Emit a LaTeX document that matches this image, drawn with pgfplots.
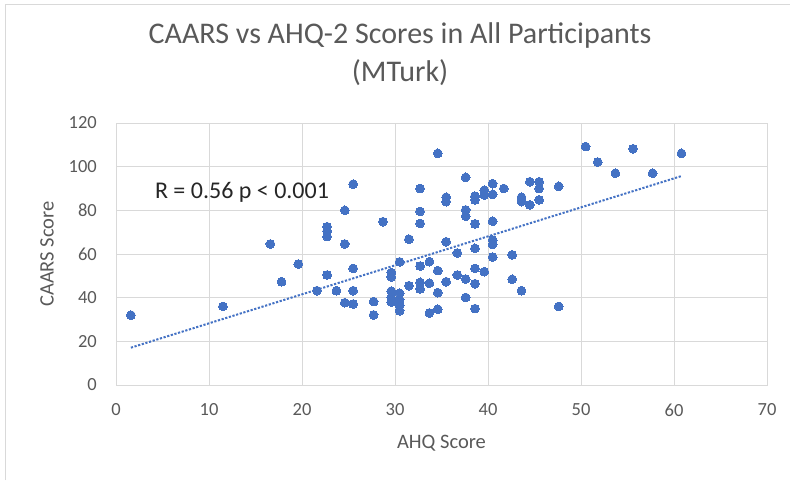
\documentclass[border=0pt]{standalone}
\usepackage{fontspec}
\setmainfont{Carlito}
\usepackage{pgfplots}
\pgfplotsset{compat=1.18}

\definecolor{dotblue}{HTML}{4472C4}
\definecolor{gridgray}{HTML}{D9D9D9}
\definecolor{txtgray}{HTML}{595959}

% AHQ score vs CAARS score, one row per participant
\pgfplotstableread{
x y
1.6 32
11.5 36
16.6 64.6
17.8 47.3
19.6 55.4
21.6 43.2
22.7 72.5
22.7 70.5
22.7 68
22.7 50.4
23.7 43.2
24.6 80
24.6 64.6
24.6 37.7
25.5 92
25.5 53.4
25.5 43.2
25.5 37.1
27.7 38.2
27.7 32.1
28.7 74.8
29.6 51.5
29.6 49.5
30.5 56.4
29.6 43
29.6 40
29.6 38
30.5 42
30.5 39
30.5 36.5
30.5 34
31.5 66.8
31.5 45.5
32.7 90
32.7 79.5
32.7 74
32.7 54.5
32.7 47
32.7 44
33.7 56.5
33.7 46.6
33.7 33
34.6 34.7
34.6 106.1
34.6 52.4
34.6 42.3
35.5 86
35.5 84
35.5 65.6
35.5 47.3
36.7 60.5
36.7 50.4
37.6 95.1
37.6 80.2
37.6 77.3
37.6 48.5
37.6 40.1
38.6 86.5
38.6 84.8
38.6 73.8
38.6 62.6
38.6 53.4
38.6 46.4
38.6 35
39.6 89.2
39.6 87
39.6 51.9
40.5 92.2
40.5 87.3
40.5 75
40.5 66.4
40.5 64.4
40.5 58.6
41.7 90
42.6 59.6
42.6 48.4
43.6 43.2
43.6 86
43.6 84
44.5 93.1
44.5 82.5
45.5 93.1
45.5 90
45.5 84.8
47.6 91
47.6 36
50.5 109.2
51.8 102.1
53.7 97
55.6 108.2
57.7 97
60.8 106.1
}\mturk

\begin{document}
\begin{tikzpicture}[x=1pt,y=1pt]
\useasboundingbox (0,0) rectangle (790,480);
\draw[gridgray, line width=1pt] (5,0) -- (5,475) -- (790,475);
\begin{axis}[
    at={(116pt,95pt)}, anchor=south west,
    scale only axis,
    width=651pt, height=262pt,
    xmin=0, xmax=70, ymin=0, ymax=120,
    xtick distance=10, ytick distance=20,
    grid=major,
    grid style={gridgray, line width=1pt},
    axis line style={gridgray, line width=1pt},
    major tick length=0pt,
    /pgf/number format/assume math mode=true,
    tick label style={font=\fontsize{18.5}{22}\selectfont, text=txtgray, inner sep=0pt},
    xticklabel style={anchor=center, yshift=-25pt},
    yticklabel style={anchor=east, xshift=-19pt},
    xlabel={AHQ Score},
    ylabel={CAARS Score},
    label style={font=\fontsize{20.5}{24}\selectfont, text=txtgray, inner sep=0pt},
    xlabel style={at={(axis description cs:0.5,-0.2214)}, anchor=center},
    ylabel style={at={(axis description cs:-0.106,0.5)}, anchor=center},
    title={CAARS vs AHQ-2 Scores in All Participants\\(MTurk)},
    title style={at={(axis description cs:0.4363,1.2385)}, anchor=center, align=center,
        font=\fontsize{30}{38}\selectfont, text=txtgray, inner sep=0pt},
    clip=false,
]
\addplot[dotblue, only marks, mark=*, mark size=4.4pt, mark options={draw=dotblue, fill=dotblue, line width=0pt}] table[x=x, y=y] {\mturk};
\addplot[dotblue, line width=2pt, dash pattern=on 2.2pt off 1.6pt] coordinates {(1.6,17.1) (60.8,95.7)};
\node[font=\fontsize{24}{28}\selectfont, text=black!85] at (axis cs:13.55,88.1) {R = 0.56 p < 0.001};
\end{axis}
\end{tikzpicture}
\end{document}
